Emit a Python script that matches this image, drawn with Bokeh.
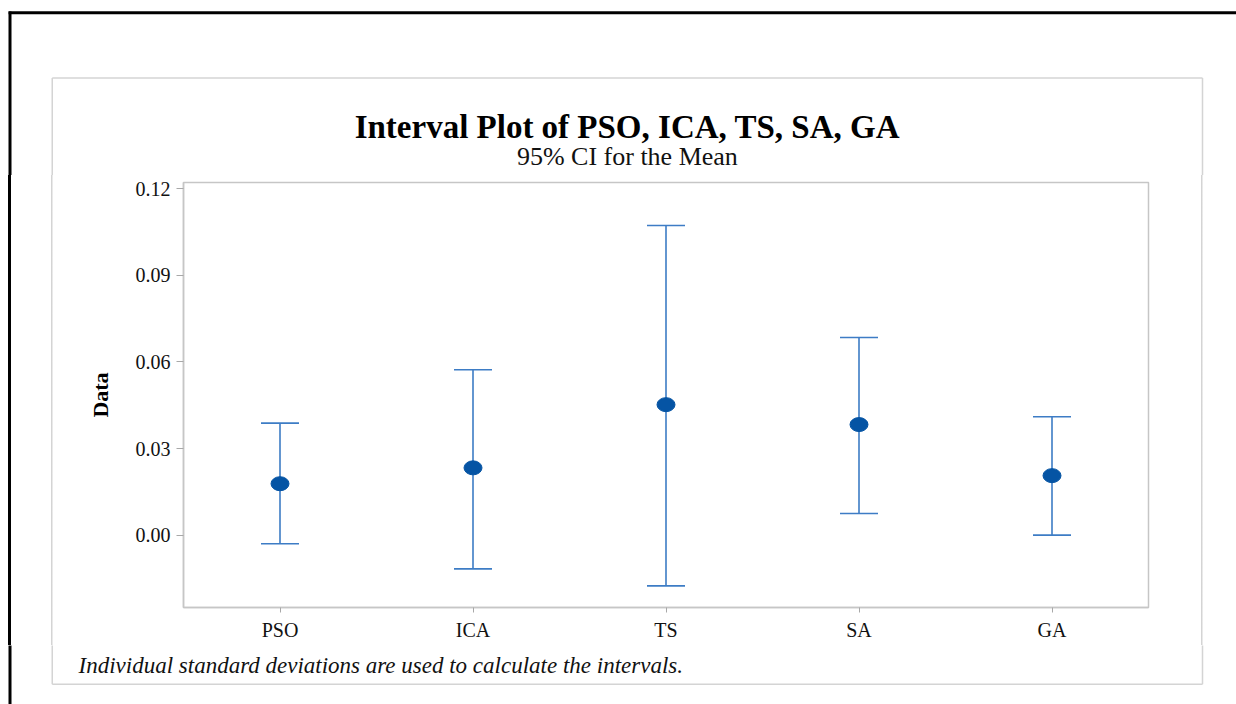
from bokeh.plotting import figure
from bokeh.layouts import column, row
from bokeh.models import (ColumnDataSource, FactorRange, Range1d, FixedTicker,
                          NumeralTickFormatter, Whisker, TeeHead)
from bokeh.core.properties import value
from bokeh.embed import file_html
from bokeh.resources import INLINE

# ---- data ----
methods = ["PSO", "ICA", "TS", "SA", "GA"]
means = [0.0178, 0.0233, 0.0452, 0.0383, 0.0206]
upper = [0.0388, 0.0573, 0.1073, 0.0685, 0.0410]
lower = [-0.0030, -0.0117, -0.0176, 0.0075, 0.0000]
y_ticks = [0.0, 0.03, 0.06, 0.09, 0.12]

title_text = "Interval Plot of PSO, ICA, TS, SA, GA"
subtitle_text = "95% CI for the Mean"
footnote_text = "Individual standard deviations are used to calculate the intervals."

SERIF = "Liberation Serif"
BAR_COLOR = "#3d7cc5"
DOT_COLOR = "#0554a4"
GRAY = "#c6c6c6"
FRAME_GRAY = "#d4d4d4"

# ---- page geometry (pixels) ----
W, H = 1236, 704
TOP_H = 175            # title strip
MID_H = 470            # plot strip
BOT_H = H - TOP_H - MID_H

BLACK_X, BLACK_Y, BLACK_W = 9.5, 12.2, 3.0            # outer black border (left / top)
GF_L, GF_T, GF_R, GF_B, GF_W = 51.75, 77.6, 1202.0, 683.7, 1.5   # light gray frame


def strip(y0, y1):
    """Blank full-width figure whose data coordinates equal page pixels (y downward)."""
    f = figure(width=W, height=int(y1 - y0), output_backend="svg",
               toolbar_location=None, x_range=Range1d(0, W),
               y_range=Range1d(y1, y0), x_axis_type=None, y_axis_type=None,
               min_border=0, background_fill_color="white",
               border_fill_color="white")
    f.outline_line_color = None
    f.grid.visible = False
    # black border (left side and top)
    f.segment(x0=[BLACK_X, BLACK_X - 1.4], y0=[BLACK_Y - 1.3, BLACK_Y],
              x1=[BLACK_X, W + 5], y1=[H + 5, BLACK_Y],
              line_color="black", line_width=BLACK_W)
    # gray frame
    f.segment(x0=[GF_L, GF_R, GF_L, GF_L], y0=[GF_T, GF_T, GF_T, GF_B],
              x1=[GF_L, GF_R, GF_R, GF_R], y1=[GF_B, GF_B, GF_T, GF_B],
              line_color=FRAME_GRAY, line_width=GF_W)
    return f


# ---- top strip: titles ----
top = strip(0, TOP_H)
top.text(x=[(GF_L + GF_R) / 2], y=[126], text=[title_text],
         text_font=value(SERIF), text_font_style="bold",
         text_font_size=value("33px"), text_align="center",
         text_baseline="alphabetic", text_color="black")
top.text(x=[(GF_L + GF_R) / 2], y=[155.5], text=[subtitle_text],
         text_font=value(SERIF), text_font_size=value("26px"),
         text_align="center", text_baseline="alphabetic", text_color="#111111")

# ---- bottom strip: footnote ----
bottom = strip(TOP_H + MID_H, H)
bottom.text(x=[78], y=[665], text=[footnote_text], text_font=value(SERIF),
            text_font_style="italic", text_font_size=value("23px"),
            text_align="left", text_baseline="alphabetic", text_color="#111111")

# ---- main interval plot (full width; side lines drawn as CSS background) ----
src = ColumnDataSource(dict(x=methods, mean=means, upper=upper, lower=lower))

side_lines = ", ".join([
    f"linear-gradient(#000,#000) {BLACK_X - BLACK_W / 2}px 0 / {BLACK_W}px 100% no-repeat",
    f"linear-gradient({FRAME_GRAY},{FRAME_GRAY}) {GF_L - GF_W / 2}px 0 / {GF_W}px 100% no-repeat",
    f"linear-gradient({FRAME_GRAY},{FRAME_GRAY}) {GF_R - GF_W / 2}px 0 / {GF_W}px 100% no-repeat",
    "#ffffff",
])

p = figure(width=W, height=MID_H, output_backend="svg", toolbar_location=None,
           x_range=FactorRange(*methods), y_range=Range1d(-0.0251, 0.1222),
           min_border_left=183, min_border_right=88, min_border_top=182 - TOP_H,
           min_border_bottom=TOP_H + MID_H - 607, background_fill_color="white",
           border_fill_color=None, styles={"background": side_lines})

p.outline_line_color = GRAY
p.outline_line_width = 1.5
p.xgrid.grid_line_color = None
p.ygrid.grid_line_color = None

for ax in (p.xaxis, p.yaxis):
    ax.axis_line_color = GRAY
    ax.axis_line_width = 1.5
    ax.major_tick_line_color = "#a8a8a8"
    ax.major_tick_in = 0
    ax.minor_tick_line_color = None
    ax.major_label_text_font = SERIF
    ax.major_label_text_font_size = "20px"
    ax.major_label_text_color = "#111111"

p.yaxis.ticker = FixedTicker(ticks=y_ticks)
p.yaxis.formatter = NumeralTickFormatter(format="0.00")
p.yaxis.major_tick_out = 7
p.yaxis.major_label_standoff = 6
p.yaxis.axis_label = "Data"
p.yaxis.axis_label_text_font = SERIF
p.yaxis.axis_label_text_font_style = "bold"
p.yaxis.axis_label_text_font_size = "22px"
p.yaxis.axis_label_text_color = "black"
p.yaxis.axis_label_standoff = 20

p.xaxis.major_tick_out = 5
p.xaxis.major_label_standoff = 6

p.add_layout(Whisker(source=src, base="x", upper="upper", lower="lower",
                     line_color=BAR_COLOR, line_width=1.6,
                     upper_head=TeeHead(size=38, line_color=BAR_COLOR, line_width=1.6),
                     lower_head=TeeHead(size=38, line_color=BAR_COLOR, line_width=1.6)))
p.ellipse(x="x", y="mean", width=18, height=14, width_units="screen",
          height_units="screen", source=src, fill_color=DOT_COLOR,
          line_color=DOT_COLOR)

# wrapping the plot in its own row keeps the column from aligning the strips' frames to it
layout = column(top, row(p), bottom)
open("out.html", "w").write(file_html(layout, INLINE))
